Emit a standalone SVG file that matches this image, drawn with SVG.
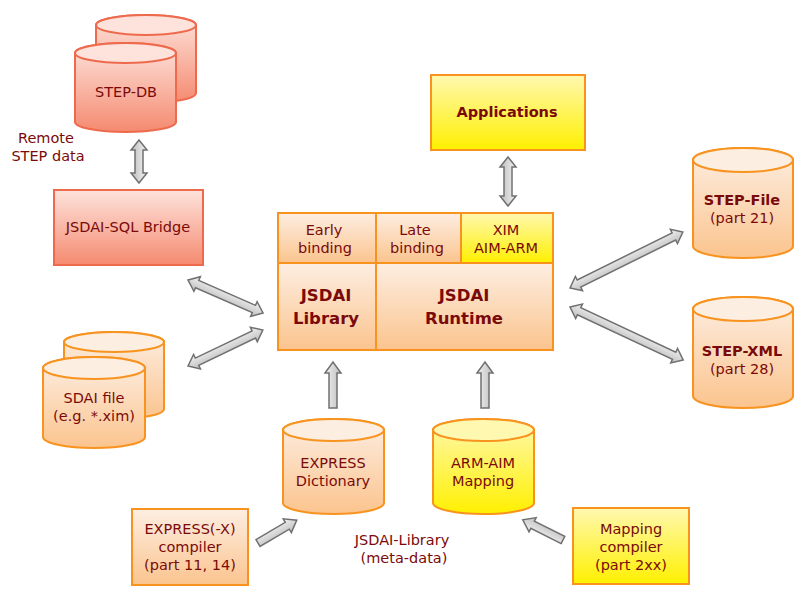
<svg xmlns="http://www.w3.org/2000/svg" width="810" height="598" viewBox="0 0 810 598">
<defs>
<linearGradient id="gOr" x1="0" y1="0" x2="0" y2="1"><stop offset="0" stop-color="#fdeee2"/><stop offset="1" stop-color="#fbc48e"/></linearGradient>
<linearGradient id="gRed" x1="0" y1="0" x2="0" y2="1"><stop offset="0" stop-color="#fde3dc"/><stop offset="1" stop-color="#f58a70"/></linearGradient>
<linearGradient id="gYel" x1="0" y1="0" x2="0" y2="1"><stop offset="0" stop-color="#fff8b0"/><stop offset="1" stop-color="#fff000"/></linearGradient>
<linearGradient id="gGray" x1="0" y1="0" x2="0" y2="1"><stop offset="0" stop-color="#f2f2f2"/><stop offset="1" stop-color="#bdbdbd"/></linearGradient>
<style>
.or{fill:url(#gOr);stroke:#f7931e;stroke-width:2}
.red{fill:url(#gRed);stroke:#ee6a4d;stroke-width:2}
.yel{fill:url(#gYel);stroke:#f7931e;stroke-width:2}
.topOr{fill:#fdeee2;stroke:#f7931e;stroke-width:2}
.topRed{fill:#fde3dc;stroke:#ee6a4d;stroke-width:2}
.topYel{fill:#fff8b0;stroke:#f7931e;stroke-width:2}
text{font-family:"DejaVu Sans","Verdana",sans-serif;font-size:14.5px;fill:#7a0a0a;text-anchor:middle}
.b{font-weight:bold}
.big{font-weight:bold;font-size:16.5px}
.arr{fill:url(#gGray);stroke:#707070;stroke-width:1.5;stroke-linejoin:miter}
</style>
</defs>

<g id="step-db">
<path class="red" d="M96,25 A50,10 0 0 1 196,25 L196,93 A50,10 0 0 1 96,93 Z"/>
<ellipse class="topRed" cx="146" cy="25" rx="50" ry="10"/>
<path class="red" d="M75,53 A50.5,10 0 0 1 176,53 L176,122 A50.5,10 0 0 1 75,122 Z"/>
<ellipse class="topRed" cx="125.5" cy="53" rx="50.5" ry="10"/>
<text x="126" y="97">STEP-DB</text>
</g>

<g id="remote-label">
<text x="46" y="143">Remote</text>
<text x="48" y="161">STEP data</text>
</g>

<g id="sql-bridge">
<rect class="red" x="54" y="190" width="149" height="75"/>
<text x="128" y="232">JSDAI-SQL Bridge</text>
</g>

<g id="applications">
<rect class="yel" x="431" y="75" width="154" height="75"/>
<text class="b" x="507" y="117">Applications</text>
</g>

<g id="jsdai-main">
<rect class="or" x="278" y="213" width="275" height="137"/>
<rect class="or" x="278" y="213" width="98" height="50"/>
<rect class="or" x="376" y="213" width="85" height="50"/>
<rect class="yel" x="461" y="213" width="92" height="50"/>
<rect class="or" x="278" y="263" width="98" height="87"/>
<rect class="or" x="376" y="263" width="177" height="87"/>
<text x="324" y="235">Early</text>
<text x="325" y="253">binding</text>
<text x="415" y="235">Late</text>
<text x="417" y="253">binding</text>
<text x="506" y="235">XIM</text>
<text x="506" y="253">AIM-ARM</text>
<text class="big" x="326" y="301">JSDAI</text>
<text class="big" x="326" y="324">Library</text>
<text class="big" x="464" y="301">JSDAI</text>
<text class="big" x="464" y="324">Runtime</text>
</g>

<g id="step-file">
<path class="or" d="M693,160 A50,12 0 0 1 793,160 L793,246 A50,12 0 0 1 693,246 Z"/>
<ellipse class="topOr" cx="743" cy="160" rx="50" ry="12"/>
<text class="b" x="742" y="205">STEP-File</text>
<text x="742" y="223">(part 21)</text>
</g>

<g id="step-xml">
<path class="or" d="M693,309 A50,12 0 0 1 793,309 L793,396 A50,12 0 0 1 693,396 Z"/>
<ellipse class="topOr" cx="743" cy="309" rx="50" ry="12"/>
<text class="b" x="742" y="356">STEP-XML</text>
<text x="742" y="374">(part 28)</text>
</g>

<g id="sdai-file">
<path class="or" d="M64,342 A50,10 0 0 1 164,342 L164,409 A50,10 0 0 1 64,409 Z"/>
<ellipse class="topOr" cx="114" cy="342" rx="50" ry="10"/>
<path class="or" d="M43,368 A51,11 0 0 1 145,368 L145,437 A51,11 0 0 1 43,437 Z"/>
<ellipse class="topOr" cx="94" cy="368" rx="51" ry="11"/>
<text x="94" y="403">SDAI file</text>
<text x="94" y="421">(e.g. *.xim)</text>
</g>

<g id="express-dictionary">
<path class="or" d="M283,430 A50.5,11 0 0 1 384,430 L384,503 A50.5,11 0 0 1 283,503 Z"/>
<ellipse class="topOr" cx="333.5" cy="430" rx="50.5" ry="11"/>
<text x="333" y="468">EXPRESS</text>
<text x="333" y="486">Dictionary</text>
</g>

<g id="arm-aim-mapping">
<path class="yel" d="M433,430 A50.5,11 0 0 1 534,430 L534,503 A50.5,11 0 0 1 433,503 Z"/>
<ellipse class="topYel" cx="483.5" cy="430" rx="50.5" ry="11"/>
<text x="483" y="468">ARM-AIM</text>
<text x="483" y="486">Mapping</text>
</g>

<g id="express-compiler">
<rect class="or" x="132" y="509" width="116" height="76"/>
<text x="190" y="534">EXPRESS(-X)</text>
<text x="190" y="552">compiler</text>
<text x="190" y="570">(part 11, 14)</text>
</g>

<g id="meta-label">
<text x="402" y="545">JSDAI-Library</text>
<text x="404" y="563">(meta-data)</text>
</g>

<g id="mapping-compiler">
<rect class="yel" x="573" y="508" width="116" height="76"/>
<text x="631" y="534">Mapping</text>
<text x="631" y="552">compiler</text>
<text x="631" y="570">(part 2xx)</text>
</g>

<g id="connectors">
<path class="arr" transform="translate(139,140) rotate(90)" d="M0,0 L10,-8 L10,-4 L33,-4 L33,-8 L43,0 L33,8 L33,4 L10,4 L10,8 Z"/>
<path class="arr" transform="translate(508,157) rotate(90)" d="M0,0 L10,-8 L10,-4 L39,-4 L39,-8 L49,0 L39,8 L39,4 L10,4 L10,8 Z"/>
<path class="arr" transform="translate(570,288) rotate(-26.4)" d="M0,0 L10,-8 L10,-4 L116,-4 L116,-8 L126,0 L116,8 L116,4 L10,4 L10,8 Z"/>
<path class="arr" transform="translate(570,307) rotate(25.1)" d="M0,0 L10,-8 L10,-4 L115,-4 L115,-8 L125,0 L115,8 L115,4 L10,4 L10,8 Z"/>
<path class="arr" transform="translate(188,280) rotate(23.75)" d="M0,0 L10,-8 L10,-4 L72,-4 L72,-8 L82,0 L72,8 L72,4 L10,4 L10,8 Z"/>
<path class="arr" transform="translate(188,366) rotate(-25.6)" d="M0,0 L10,-8 L10,-4 L73,-4 L73,-8 L83,0 L73,8 L73,4 L10,4 L10,8 Z"/>
<path class="arr" transform="translate(333,408) rotate(-90)" d="M0,-4 L35,-4 L35,-8 L46,0 L35,8 L35,4 L0,4 Z"/>
<path class="arr" transform="translate(485,408) rotate(-90)" d="M0,-4 L35,-4 L35,-8 L46,0 L35,8 L35,4 L0,4 Z"/>
<path class="arr" transform="translate(258,543) rotate(-30.5)" d="M0,-4 L34,-4 L34,-8 L45,0 L34,8 L34,4 L0,4 Z"/>
<path class="arr" transform="translate(563,540) rotate(206.6)" d="M0,-4 L34,-4 L34,-8 L45,0 L34,8 L34,4 L0,4 Z"/>
</g>
</svg>
